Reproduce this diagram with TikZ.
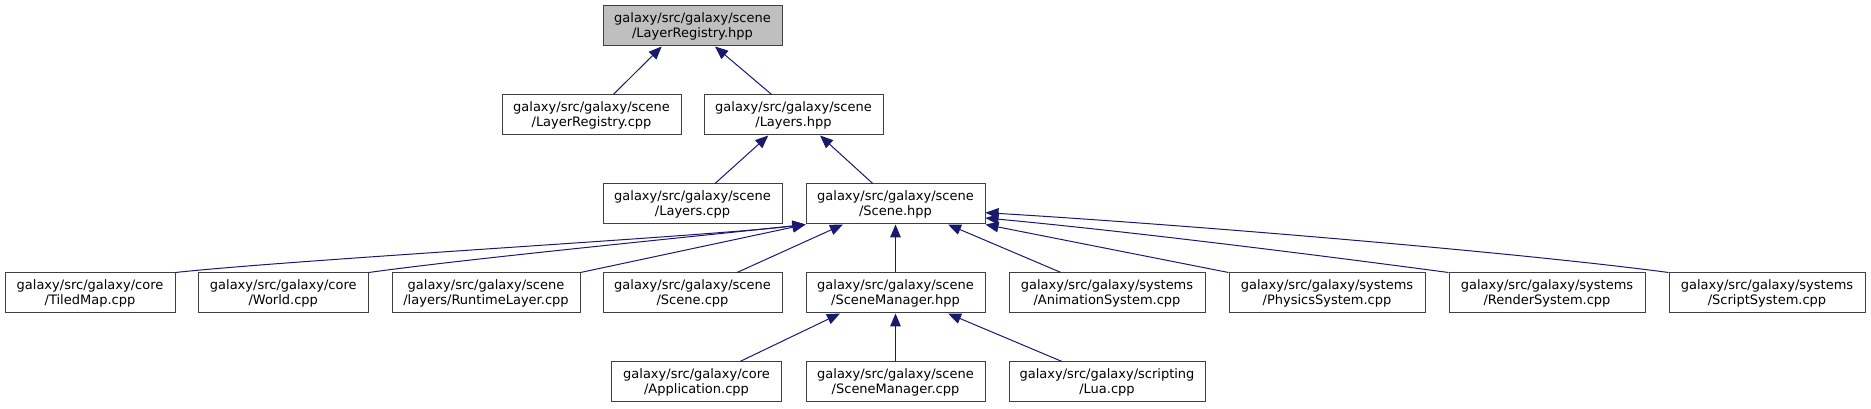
\documentclass[tikz,border=0pt]{standalone}
\usepackage{fontspec}
\newfontfamily\dejavu{DejaVu Sans}
\usetikzlibrary{arrows.meta,calc}
\definecolor{boxedge}{HTML}{404040}
\definecolor{curfile}{HTML}{BFBFBF}
\definecolor{incedge}{HTML}{191970}

\begin{document}
\begin{tikzpicture}[
  x=0.75pt, y=-0.75pt,
  font=\dejavu\fontsize{9.75}{11.25}\selectfont,
  fbox/.style={draw=boxedge, line width=0.75pt, fill=white, align=center,
               minimum height=30pt, inner sep=1pt},
  inc/.style={-{Triangle[length=9.75pt,width=8pt]}, line width=0.75pt, draw=incedge},
]
\useasboundingbox (0,0) rectangle (1871,409);
% header and the files above Scene.hpp
\node[fbox, fill=curfile, minimum width=134.25pt] (lrhpp) at (692.5,26) {galaxy/src/galaxy/scene\\/LayerRegistry.hpp};
\node[fbox, minimum width=134.25pt] (lrcpp) at (591.5,115) {galaxy/src/galaxy/scene\\/LayerRegistry.cpp};
\node[fbox, minimum width=134.25pt] (lhpp) at (793.5,115) {galaxy/src/galaxy/scene\\/Layers.hpp};
\node[fbox, minimum width=134.25pt] (lcpp) at (692.5,204) {galaxy/src/galaxy/scene\\/Layers.cpp};
\node[fbox, minimum width=134.25pt] (shpp) at (895.5,204) {galaxy/src/galaxy/scene\\/Scene.hpp};
% everything that includes Scene.hpp
\foreach \n/\x/\w/\d/\f in {tiled/90/127.5/core/{TiledMap.cpp}, world/283.25/127.5/core/{World.cpp},
    rtlayer/486/141/scene/{layers/RuntimeLayer.cpp}, scpp/692.5/134.25/scene/{Scene.cpp},
    smhpp/895.5/134.25/scene/{SceneManager.hpp}, anim/1107/147/systems/{AnimationSystem.cpp},
    phys/1327/147/systems/{PhysicsSystem.cpp}, render/1547/147/systems/{RenderSystem.cpp},
    script/1767/147/systems/{ScriptSystem.cpp}}{
  \node[fbox, minimum width=\w pt] (\n) at (\x,293) {galaxy/src/galaxy/\d\\/\f};
}
% everything that includes SceneManager.hpp
\foreach \n/\x/\w/\d/\f in {app/696.5/127.5/core/{Application.cpp}, smcpp/895.5/134.25/scene/{SceneManager.cpp},
    lua/1107/147/scripting/{Lua.cpp}}{
  \node[fbox, minimum width=\w pt] (\n) at (\x,382) {galaxy/src/galaxy/\d\\/\f};
}

\draw[inc] ([xshift=16.4pt]lrcpp.north) -- ([xshift=-23.1pt]lrhpp.south);
\draw[inc] ([xshift=-16.4pt]lhpp.north) -- ([xshift=16.9pt]lrhpp.south);
\draw[inc] ([xshift=16.9pt]lcpp.north) -- ([xshift=-18.9pt]lhpp.south);
\draw[inc] ([xshift=-17.1pt]shpp.north) -- ([xshift=19.9pt]lhpp.south);

\draw[inc] (tiled.north east) .. controls +(120,-13) and +(-100,12) .. (shpp.south west);
\draw[inc] (world.north east) .. controls +(100,-14) and +(-100,11) .. (shpp.south west);
\draw[inc] (rtlayer.north east) -- (shpp.south west);
\draw[inc] ([xshift=33.4pt]scpp.north) -- ([xshift=-39.4pt]shpp.south);
\draw[inc] (smhpp) -- (shpp);
\draw[inc] ([xshift=-34.5pt]anim.north) -- ([xshift=39.4pt]shpp.south);
\draw[inc] (phys.north west) -- (shpp.south east);
\draw[inc] (render.north west) .. controls +(-120,-16) and +(150,14) .. ([yshift=-10.5pt]shpp.east);
\draw[inc] (script.north west) .. controls +(-150,-20) and +(200,12) .. ([yshift=-6.5pt]shpp.east);

\draw[inc] ([xshift=32.6pt]app.north) -- ([xshift=-41.6pt]smhpp.south);
\draw[inc] (smcpp) -- (smhpp);
\draw[inc] ([xshift=-33.75pt]lua.north) -- ([xshift=39.4pt]smhpp.south);
\end{tikzpicture}
\end{document}
